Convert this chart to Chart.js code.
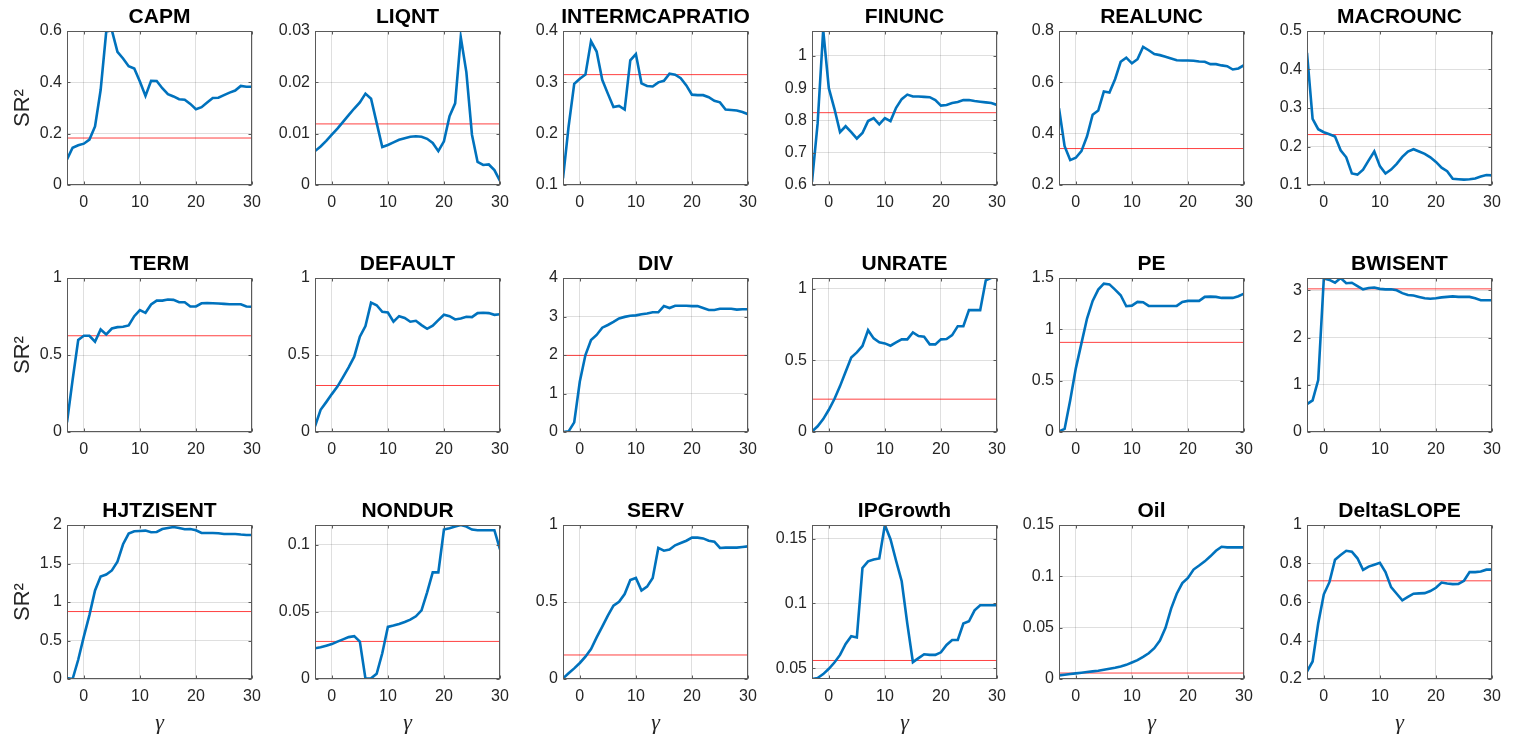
<!DOCTYPE html>
<html>
<head>
<meta charset="utf-8">
<script src="https://cdn.jsdelivr.net/npm/chart.js@4.4.0/dist/chart.umd.min.js"></script>
<style>
  body { margin: 0; background: #fff; width: 1522px; height: 740px; overflow: hidden; position: relative; }
  canvas { position: absolute; }
</style>
</head>
<body>
<script>
// gamma grid shared by every panel
const gammas = [-3, -2, -1, 0, 1, 2, 3, 4, 5, 6, 7, 8, 9, 10, 11, 12, 13, 14, 15, 16, 17, 18, 19, 20, 21, 22, 23, 24, 25, 26, 27, 28, 29, 30];
const xTicks = [0, 10, 20, 30];

const panelNames = ['CAPM', 'LIQNT', 'INTERMCAPRATIO', 'FINUNC', 'REALUNC', 'MACROUNC',
  'TERM', 'DEFAULT', 'DIV', 'UNRATE', 'PE', 'BWISENT',
  'HJTZISENT', 'NONDUR', 'SERV', 'IPGrowth', 'Oil', 'DeltaSLOPE'];

// SR^2 per gamma
const capm = [0.10, 0.145, 0.155, 0.161, 0.177, 0.228, 0.37, 0.598, 0.603, 0.519, 0.493, 0.463, 0.454, 0.403, 0.347, 0.406, 0.405, 0.377, 0.354, 0.345, 0.334, 0.332, 0.316, 0.295, 0.303, 0.321, 0.339, 0.34, 0.35, 0.36, 0.368, 0.386, 0.383, 0.383];
const liqnt = [0.0066, 0.0075, 0.0086, 0.0098, 0.011, 0.0123, 0.0136, 0.0149, 0.0161, 0.0178, 0.0168, 0.0121, 0.0074, 0.0078, 0.0083, 0.0088, 0.0091, 0.0094, 0.0095, 0.0094, 0.009, 0.0082, 0.0066, 0.0085, 0.0134, 0.0159, 0.0288, 0.022, 0.0098, 0.0045, 0.0039, 0.004, 0.0029, 0.0008];
const intermcap = [0.113, 0.214, 0.297, 0.307, 0.315, 0.38, 0.36, 0.305, 0.278, 0.252, 0.254, 0.247, 0.343, 0.355, 0.298, 0.293, 0.292, 0.3, 0.303, 0.317, 0.315, 0.308, 0.294, 0.276, 0.275, 0.275, 0.271, 0.264, 0.261, 0.247, 0.246, 0.245, 0.242, 0.238];
const finunc = [0.61, 0.79, 1.08, 0.90, 0.836, 0.764, 0.782, 0.764, 0.744, 0.761, 0.798, 0.807, 0.788, 0.807, 0.798, 0.839, 0.866, 0.88, 0.874, 0.874, 0.873, 0.872, 0.863, 0.846, 0.848, 0.854, 0.857, 0.863, 0.863, 0.86, 0.858, 0.856, 0.854, 0.848];
const realunc = [0.499, 0.351, 0.297, 0.306, 0.332, 0.39, 0.474, 0.49, 0.564, 0.56, 0.612, 0.68, 0.696, 0.674, 0.69, 0.738, 0.725, 0.71, 0.706, 0.7, 0.693, 0.686, 0.685, 0.685, 0.684, 0.681, 0.68, 0.671, 0.671, 0.666, 0.663, 0.65, 0.654, 0.667];
const macrounc = [0.443, 0.272, 0.245, 0.237, 0.232, 0.226, 0.19, 0.172, 0.13, 0.127, 0.14, 0.164, 0.187, 0.149, 0.13, 0.14, 0.155, 0.173, 0.187, 0.193, 0.187, 0.181, 0.172, 0.16, 0.145, 0.136, 0.116, 0.115, 0.114, 0.115, 0.117, 0.122, 0.126, 0.125];
const term = [0.0625, 0.338, 0.597, 0.625, 0.625, 0.586, 0.666, 0.634, 0.672, 0.681, 0.683, 0.692, 0.752, 0.791, 0.774, 0.828, 0.853, 0.853, 0.86, 0.858, 0.843, 0.843, 0.815, 0.815, 0.836, 0.838, 0.836, 0.834, 0.832, 0.83, 0.83, 0.83, 0.815, 0.813];
const defaultSpread = [0.037, 0.144, 0.194, 0.246, 0.295, 0.356, 0.42, 0.489, 0.619, 0.688, 0.84, 0.823, 0.78, 0.776, 0.716, 0.752, 0.741, 0.716, 0.722, 0.694, 0.67, 0.69, 0.726, 0.761, 0.752, 0.731, 0.737, 0.748, 0.746, 0.772, 0.774, 0.772, 0.761, 0.765];
const div = [0, 0.017, 0.25, 1.31, 2.0, 2.39, 2.52, 2.71, 2.78, 2.86, 2.95, 2.99, 3.02, 3.03, 3.06, 3.08, 3.11, 3.11, 3.27, 3.22, 3.28, 3.28, 3.28, 3.27, 3.27, 3.22, 3.17, 3.17, 3.2, 3.2, 3.2, 3.18, 3.19, 3.19];
const unrate = [0.003, 0.04, 0.09, 0.155, 0.23, 0.32, 0.42, 0.52, 0.555, 0.60, 0.71, 0.653, 0.625, 0.618, 0.602, 0.625, 0.646, 0.646, 0.694, 0.669, 0.664, 0.611, 0.611, 0.646, 0.648, 0.676, 0.738, 0.738, 0.85, 0.85, 0.85, 1.058, 1.076, 1.076];
const pe = [0.006, 0.03, 0.31, 0.62, 0.863, 1.105, 1.277, 1.387, 1.445, 1.438, 1.387, 1.332, 1.225, 1.231, 1.267, 1.264, 1.228, 1.228, 1.228, 1.228, 1.228, 1.228, 1.267, 1.277, 1.277, 1.277, 1.316, 1.319, 1.316, 1.306, 1.306, 1.306, 1.322, 1.348];
const bwisent = [0.59, 0.67, 1.1, 3.25, 3.22, 3.16, 3.26, 3.15, 3.16, 3.09, 3.02, 3.05, 3.06, 3.03, 3.02, 3.02, 3.0, 2.94, 2.9, 2.89, 2.86, 2.83, 2.82, 2.83, 2.85, 2.86, 2.87, 2.86, 2.86, 2.86, 2.83, 2.79, 2.79, 2.79];
const hjtzisent = [0.013, 0, 0.25, 0.55, 0.83, 1.15, 1.33, 1.356, 1.41, 1.524, 1.75, 1.888, 1.918, 1.923, 1.927, 1.906, 1.91, 1.948, 1.961, 1.974, 1.961, 1.944, 1.948, 1.931, 1.897, 1.897, 1.897, 1.893, 1.884, 1.884, 1.884, 1.876, 1.871, 1.871];
const nondur = [0.0229, 0.0236, 0.0248, 0.026, 0.0278, 0.0295, 0.0312, 0.0319, 0.0278, 0.0003, 0.0005, 0.0039, 0.0192, 0.0388, 0.0398, 0.041, 0.0425, 0.0442, 0.0467, 0.0511, 0.0646, 0.0794, 0.0794, 0.1113, 0.1123, 0.1135, 0.1147, 0.1135, 0.1113, 0.1108, 0.1108, 0.1108, 0.1108, 0.0966];
const serv = [0.004, 0.037, 0.069, 0.104, 0.145, 0.195, 0.27, 0.34, 0.411, 0.476, 0.502, 0.552, 0.643, 0.656, 0.574, 0.6, 0.656, 0.851, 0.833, 0.84, 0.868, 0.883, 0.898, 0.918, 0.918, 0.913, 0.898, 0.892, 0.851, 0.853, 0.853, 0.853, 0.857, 0.861];
const ipgrowth = [0.0416, 0.0424, 0.0454, 0.0495, 0.0543, 0.0602, 0.0686, 0.0747, 0.0737, 0.1273, 0.1324, 0.1339, 0.1347, 0.1605, 0.1495, 0.1329, 0.1171, 0.0844, 0.0546, 0.0577, 0.0607, 0.0602, 0.0602, 0.0622, 0.0679, 0.0717, 0.0717, 0.0844, 0.0862, 0.0946, 0.0985, 0.0985, 0.0985, 0.0985];
const oil = [0.0035, 0.0042, 0.0048, 0.0055, 0.0061, 0.0068, 0.0074, 0.008, 0.009, 0.01, 0.0109, 0.0122, 0.0138, 0.0161, 0.0184, 0.0216, 0.0251, 0.03, 0.0374, 0.0499, 0.0686, 0.0831, 0.0934, 0.0985, 0.1066, 0.1105, 0.1146, 0.1195, 0.1249, 0.1288, 0.1282, 0.1282, 0.1282, 0.1282];
const deltaSlope = [0.239, 0.291, 0.488, 0.64, 0.703, 0.82, 0.844, 0.866, 0.861, 0.827, 0.767, 0.784, 0.794, 0.804, 0.755, 0.677, 0.643, 0.609, 0.626, 0.643, 0.645, 0.646, 0.657, 0.674, 0.701, 0.696, 0.693, 0.694, 0.71, 0.755, 0.755, 0.758, 0.768, 0.768];

const seriesList = [capm, liqnt, intermcap, finunc, realunc, macrounc,
  term, defaultSpread, div, unrate, pe, bwisent,
  hjtzisent, nondur, serv, ipgrowth, oil, deltaSlope];

// red horizontal benchmark level per panel
const benchmark = [0.183, 0.0119, 0.315, 0.824, 0.342, 0.231, 0.625, 0.302, 1.99, 0.229, 0.873, 3.03, 0.876, 0.028, 0.156, 0.0559, 0.0058, 0.71];

// y axis ranges and ticks
const yMin = [0, 0, 0.1, 0.6, 0.2, 0.1, 0, 0, 0, 0, 0, 0, 0, 0, 0, 0.0416, 0, 0.2];
const yMax = [0.6, 0.03, 0.4, 1.077, 0.8, 0.5, 1, 1, 4, 1.074, 1.5, 3.26, 2, 0.1147, 1, 0.1605, 0.15, 1];
const yTicks = [
  [0, 0.2, 0.4, 0.6], [0, 0.01, 0.02, 0.03], [0.1, 0.2, 0.3, 0.4], [0.6, 0.7, 0.8, 0.9, 1], [0.2, 0.4, 0.6, 0.8], [0.1, 0.2, 0.3, 0.4, 0.5],
  [0, 0.5, 1], [0, 0.5, 1], [0, 1, 2, 3, 4], [0, 0.5, 1], [0, 0.5, 1, 1.5], [0, 1, 2, 3],
  [0, 0.5, 1, 1.5, 2], [0, 0.05, 0.1], [0, 0.5, 1], [0.05, 0.1, 0.15], [0, 0.05, 0.1, 0.15], [0.2, 0.4, 0.6, 0.8, 1]
];

// layout of the 3x6 grid (plot area corners)
const colLeft = [67, 315, 563, 812, 1059, 1307];
const rowTop = [30, 277, 524];
const PLOT_W = 185, PLOT_H = 155, SIDE = 62, TITLE_H = 30;

Chart.defaults.font.family = "'Liberation Sans', Arial, sans-serif";
Chart.defaults.color = '#262626';

// closed box + inward tick marks, like matlab axes
const boxPlugin = {
  id: 'box',
  afterDraw(chart) {
    const { ctx, chartArea: a, scales } = chart;
    const l = Math.round(a.left) + 0.5, r = Math.round(a.right) - 0.5;
    const t = Math.round(a.top) + 0.5, b = Math.round(a.bottom) - 0.5;
    ctx.save();
    ctx.strokeStyle = '#5a5a5a';
    ctx.lineWidth = 1;
    ctx.beginPath();
    scales.x.ticks.forEach(tk => {
      const px = Math.round(scales.x.getPixelForValue(tk.value)) + 0.5;
      ctx.moveTo(px, b); ctx.lineTo(px, b - 3);
      ctx.moveTo(px, t); ctx.lineTo(px, t + 3);
    });
    scales.y.ticks.forEach(tk => {
      const py = Math.round(scales.y.getPixelForValue(tk.value)) + 0.5;
      ctx.moveTo(l, py); ctx.lineTo(l + 3, py);
      ctx.moveTo(r, py); ctx.lineTo(r - 3, py);
    });
    ctx.stroke();
    ctx.strokeRect(l, t, r - l, b - t);
    ctx.restore();
  }
};

panelNames.forEach(function(name, i) {
  const row = Math.floor(i / 6), col = i % 6;
  const padB = row === 2 ? 60 : 30;
  const canvas = document.createElement('canvas');
  canvas.width = PLOT_W + 2 * SIDE;
  canvas.height = TITLE_H + PLOT_H + padB;
  canvas.style.left = (colLeft[col] - SIDE) + 'px';
  canvas.style.top = (rowTop[row] - TITLE_H) + 'px';
  document.body.appendChild(canvas);

  const values = seriesList[i];
  new Chart(canvas, {
    type: 'line',
    data: {
      datasets: [{
        data: gammas.map((g, k) => ({ x: g, y: values[k] })),
        borderColor: '#0072BD',
        borderWidth: 2.6,
        pointRadius: 0,
        tension: 0
      }, {
        data: [{ x: gammas[0], y: benchmark[i] }, { x: gammas[gammas.length - 1], y: benchmark[i] }],
        borderColor: 'rgba(255, 0, 0, 0.75)',
        borderWidth: 1,
        pointRadius: 0
      }]
    },
    options: {
      responsive: false,
      animation: false,
      devicePixelRatio: 1,
      plugins: {
        legend: { display: false },
        tooltip: { enabled: false },
        title: {
          display: true,
          text: name,
          color: '#000',
          font: { size: 21, weight: 'bold', lineHeight: '28px' },
          padding: { top: 3, bottom: 0 }
        }
      },
      scales: {
        x: {
          type: 'linear',
          min: -3,
          max: 30,
          afterBuildTicks: s => { s.ticks = xTicks.map(v => ({ value: v })); },
          afterFit: s => { s.height = padB; },
          ticks: { font: { size: 16 }, padding: 8, maxRotation: 0, callback: v => String(v) },
          grid: { color: 'rgba(38, 38, 38, 0.15)', drawTicks: false },
          border: { display: false },
          title: {
            display: row === 2,
            text: 'γ',
            font: { family: "'Liberation Serif', 'Times New Roman', serif", style: 'italic', size: 22 },
            padding: { top: 0, bottom: 3 }
          }
        },
        y: {
          type: 'linear',
          min: yMin[i],
          max: yMax[i],
          afterBuildTicks: s => { s.ticks = yTicks[i].map(v => ({ value: v })); },
          afterFit: s => { s.width = SIDE; },
          ticks: { font: { size: 16 }, padding: 5, callback: v => String(+v.toFixed(4)) },
          grid: { color: 'rgba(38, 38, 38, 0.15)', drawTicks: false },
          border: { display: false },
          title: {
            display: col === 0,
            text: 'SR²',
            font: { size: 22 },
            padding: { top: 5, bottom: 0 }
          }
        },
        // empty right-hand axis that mirrors the left one so titles center on the plot
        yRight: {
          type: 'linear',
          position: 'right',
          afterFit: s => { s.width = SIDE; },
          ticks: { display: false },
          grid: { display: false, drawTicks: false },
          border: { display: false }
        }
      }
    },
    plugins: [boxPlugin]
  });
});
</script>
</body>
</html>
